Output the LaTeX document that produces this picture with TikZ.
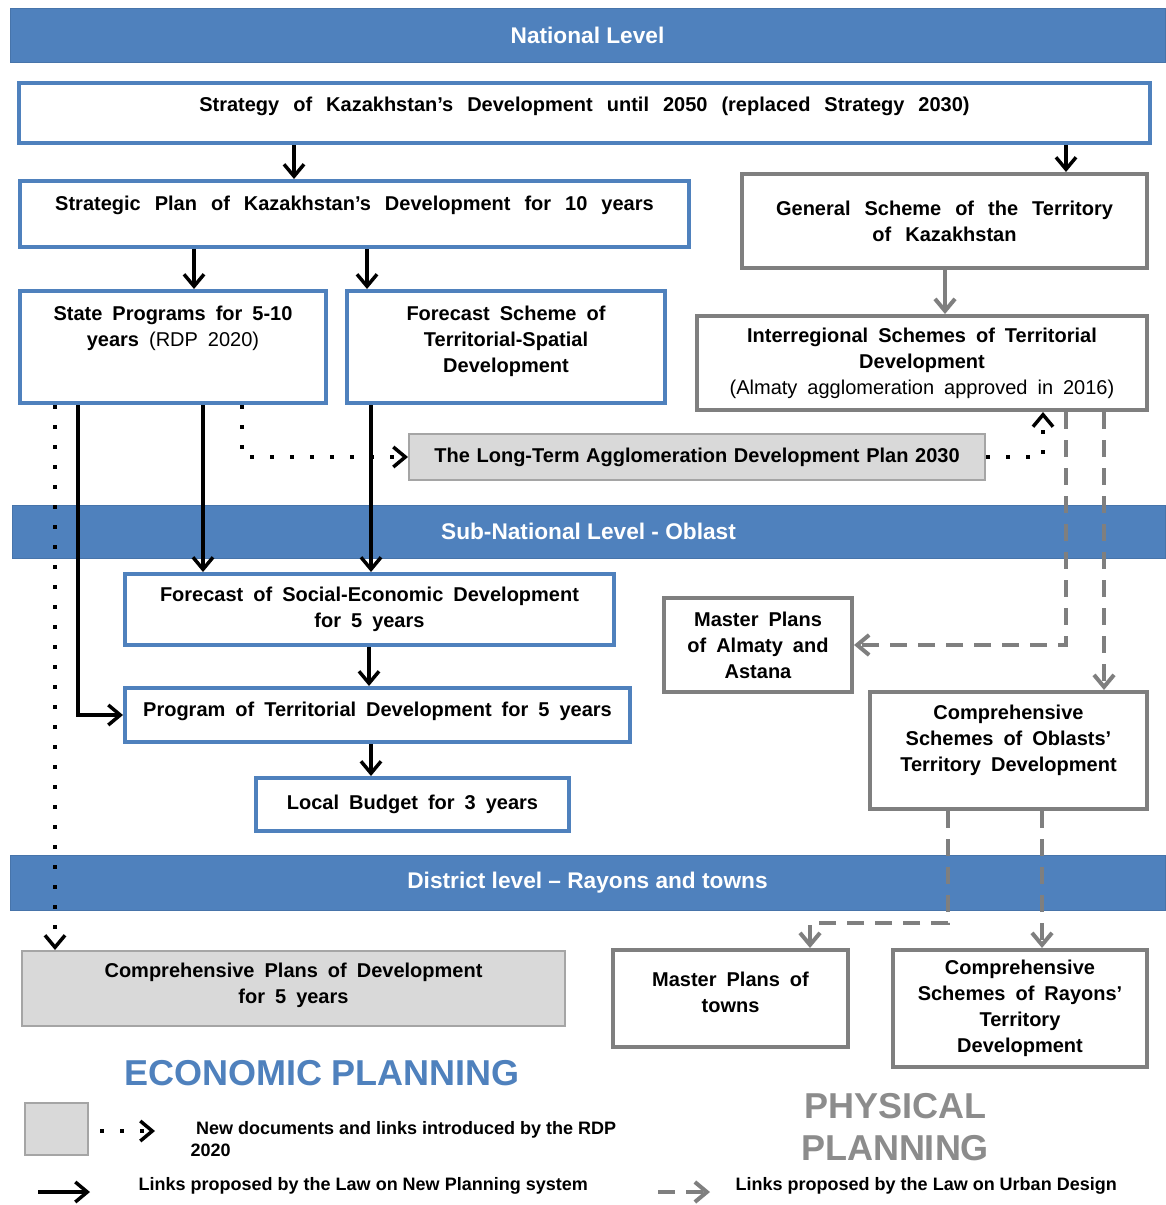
\documentclass[tikz,border=0pt]{standalone}
\usepackage{fontspec}
\setmainfont{Liberation Sans}
\usetikzlibrary{positioning, arrows.meta}
\usepackage{xcolor}

\definecolor{barblue}{HTML}{4F81BD}
\definecolor{boxgray}{HTML}{7F7F7F}
\definecolor{newgray}{HTML}{D9D9D9}

\tikzset{
  levelbar/.style={fill=barblue, draw=barblue!90!black, line width=0.6pt, text=white,
    font=\fontsize{17}{20}\selectfont\bfseries},
  ecobox/.style={draw=barblue, line width=3pt, fill=white, align=center,
    font=\fontsize{15}{19.5}\selectfont\bfseries,
    execute at begin node={\spaceskip=7.5pt plus 2pt\relax}},
  widewords/.style={execute at begin node={\spaceskip=10.5pt plus 2pt\relax}},
  physbox/.style={ecobox, draw=boxgray},
  newbox/.style={ecobox, draw=boxgray!70, line width=1.5pt, fill=newgray},
  boxsize/.style 2 args={minimum width=#1*0.75pt, minimum height=#2*0.75pt},
  arr/.style={-{Straight Barb[length=9pt,width=15pt]}, line width=2.6pt},
  dotarr/.style={arr, dash pattern=on 3pt off 12pt},
  grayarr/.style={arr, draw=boxgray, line width=3pt},
  dasharr/.style={grayarr, dash pattern=on 13pt off 8pt},
  legendtext/.style={anchor=west, align=left, font=\fontsize{13.5}{17}\selectfont\bfseries},
}

\begin{document}
\begin{tikzpicture}[x=0.75pt, y=-0.75pt]
\useasboundingbox[fill=white] (0,0) rectangle (1165,1205);

% Level bars
\node[levelbar, boxsize={1155}{54}] (natbar) at (587.5,35) {National Level};
\node[levelbar, boxsize={1153}{53}] (subbar) at (588.5,531.5) {Sub-National Level - Oblast};
\node[levelbar, boxsize={1155}{55}] (distbar) at (587.5,882.5) {District level – Rayons and towns};

% National level
\node[ecobox, widewords, boxsize={1131}{60}, text depth=13.7pt] (strat) at (584.5,113)
  {Strategy of Kazakhstan’s Development until 2050 (replaced Strategy 2030)};
\node[ecobox, widewords, boxsize={669}{66}, text depth=16.7pt] (plan10) at (354.5,214)
  {Strategic Plan of Kazakhstan’s Development for 10 years};
\node[physbox, widewords, boxsize={405}{94}] (gensch) at (944.5,221)
  {General Scheme of the Territory\\of Kazakhstan};
\node[ecobox, boxsize={306}{112}, text depth=31pt] (statep) at (173,347)
  {State Programs for 5-10\\years \mdseries(RDP 2020)};
\node[ecobox, boxsize={318}{112}, text depth=11.4pt] (fcsch) at (506,347)
  {Forecast Scheme of\\Territorial-Spatial\\Development};
\node[physbox, boxsize={450}{94}] (interreg) at (922,363)
  {Interregional Schemes of Territorial\\Development\\\mdseries(Almaty agglomeration approved in 2016)};
\node[newbox, boxsize={576}{46}, execute at begin node={\spaceskip=5pt\relax}] (longterm) at (697,457)
  {The Long-Term Agglomeration Development Plan 2030};

% Oblast level
\node[ecobox, boxsize={489}{71}] (fcsoc) at (369.5,609.5)
  {Forecast of Social-Economic Development\\for 5 years};
\node[ecobox, boxsize={505}{54}, text depth=9.2pt] (prog) at (377.5,715)
  {Program of Territorial Development for 5 years};
\node[ecobox, boxsize={313}{53}] (budget) at (412.5,804.5)
  {Local Budget for 3 years};
\node[physbox, boxsize={188}{94}] (mpalm) at (758,645)
  {Master Plans\\of Almaty and\\Astana};
\node[physbox, boxsize={277}{117}, text depth=18.2pt] (cobl) at (1008.5,750.5)
  {Comprehensive\\Schemes of Oblasts’\\Territory Development};

% District level
\node[newbox, boxsize={543}{75}, text depth=7.7pt] (compplan) at (293.5,988.5)
  {Comprehensive Plans of Development\\for 5 years};
\node[physbox, boxsize={235}{97}, text depth=9.2pt] (mptown) at (730.5,998.5)
  {Master Plans of\\towns};
\node[physbox, boxsize={254}{117}] (crayon) at (1020,1008.5)
  {Comprehensive\\Schemes of Rayons’\\Territory\\Development};

% Links of the planning law
\draw[arr] (294,0 |- strat.south) -- (294,0 |- plan10.north);
\draw[arr] (1066,0 |- strat.south) -- (1066,0 |- gensch.north);
\draw[arr] (194,0 |- plan10.south) -- (194,0 |- statep.north);
\draw[arr] (367,0 |- plan10.south) -- (367,0 |- fcsch.north);
\draw[arr] (203,0 |- statep.south) -- (203,0 |- fcsoc.north);
\draw[arr] (371,0 |- fcsch.south) -- (371,0 |- fcsoc.north);
\draw[arr] (78,0 |- statep.south) |- (prog.west);
\draw[arr] (369,0 |- fcsoc.south) -- (369,0 |- prog.north);
\draw[arr] (371,0 |- prog.south) -- (371,0 |- budget.north);

% RDP links
\draw[dotarr] (242,0 |- statep.south) |- (longterm.west);
\draw[dotarr] (longterm.east) -| (1043,0 |- interreg.south);
\draw[dotarr] (55,0 |- statep.south) -- (55,0 |- compplan.north);

% Urban design links
\draw[grayarr] (945,0 |- gensch.south) -- (945,0 |- interreg.north);
\draw[dasharr] (1066,0 |- interreg.south) |- (mpalm.east);
\draw[dasharr] (1104,0 |- interreg.south) -- (1104,0 |- cobl.north);
\draw[dasharr] (948,0 |- cobl.south) -- (948,923) -| (810,0 |- mptown.north);
\draw[dasharr] (1042,0 |- cobl.south) -- (1042,0 |- crayon.north);

% Headings
\node[text=barblue, font=\fontsize{27}{30}\selectfont\bfseries] (econ) at (322,1073) {ECONOMIC PLANNING};
\node[text=boxgray!90, align=center, font=\fontsize{27}{32}\selectfont\bfseries] (phys) at (895,1127) {PHYSICAL\\PLANNING};

% Legend
\node[newbox, boxsize={63}{52}] (lgbox) at (56.5,1129) {};
\coordinate (lgdot1) at (100,1131);
\coordinate (lgdot2) at (155,1131);
\draw[dotarr] (lgdot1) -- (lgdot2);
\node[legendtext] (lgtext1) at (186,1139) {\hspace{0.3em}New documents and links introduced by the RDP\\2020};
\coordinate (lgsol1) at (38,1192);
\coordinate (lgsol2) at (90,1192);
\draw[arr] (lgsol1) -- (lgsol2);
\node[legendtext] (lgtext2) at (134,1186) {Links proposed by the Law on New Planning system};
\coordinate (lgdash1) at (658,1192);
\coordinate (lgdash2) at (710,1192);
\draw[dasharr] (lgdash1) -- (lgdash2);
\node[legendtext] (lgtext3) at (731,1186) {Links proposed by the Law on Urban Design};

\end{tikzpicture}
\end{document}
